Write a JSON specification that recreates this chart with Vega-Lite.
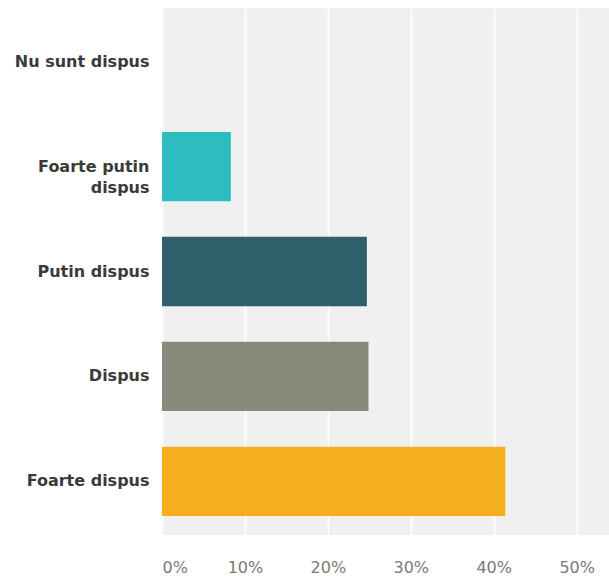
{
  "$schema": "https://vega.github.io/schema/vega-lite/v6.json",
  "autosize": "none",
  "width": 447,
  "height": 527,
  "padding": {"left": 162, "top": 8, "right": 0, "bottom": 41},
  "background": "white",
  "data": {
    "values": [
      {"answer": "Nu sunt dispus", "pct": 0},
      {"answer": "Foarte putin dispus", "pct": 8.3},
      {"answer": "Putin dispus", "pct": 24.7},
      {"answer": "Dispus", "pct": 24.9},
      {"answer": "Foarte dispus", "pct": 41.4}
    ]
  },
  "mark": {"type": "bar"},
  "encoding": {
    "y": {
      "field": "answer",
      "type": "nominal",
      "sort": null,
      "scale": {"paddingInner": 0.34, "paddingOuter": 0.18},
      "axis": {
        "title": null,
        "ticks": false,
        "domain": false,
        "grid": false,
        "labelPadding": 13,
        "labelFont": "DejaVu Sans",
        "labelFontWeight": "bold",
        "labelFontSize": 16,
        "labelColor": "#3a3a3a",
        "labelLineHeight": 21,
        "labelLimit": 200,
        "labelExpr": "datum.value == 'Foarte putin dispus' ? ['Foarte putin', 'dispus'] : datum.value",
        "encode": {
          "labels": {
            "update": {
              "dy": {"signal": "datum.value == 'Foarte putin dispus' ? -9 : 1"}
            }
          }
        }
      }
    },
    "x": {
      "field": "pct",
      "type": "quantitative",
      "scale": {"domain": [0, 53.9], "nice": false, "zero": true},
      "axis": {
        "title": null,
        "values": [0, 10, 20, 30, 40, 50],
        "labelExpr": "datum.value + '%'",
        "ticks": false,
        "domain": false,
        "grid": true,
        "gridColor": "#ffffff",
        "gridWidth": 2,
        "gridOpacity": 0.85,
        "labelPadding": 24,
        "labelFont": "DejaVu Sans",
        "labelFontSize": 16,
        "labelColor": "#7a7a7a",
        "labelFlush": true
      }
    },
    "color": {
      "field": "answer",
      "type": "nominal",
      "legend": null,
      "scale": {
        "domain": ["Nu sunt dispus", "Foarte putin dispus", "Putin dispus", "Dispus", "Foarte dispus"],
        "range": ["#4a90d9", "#2dbdc0", "#2e5f6b", "#898a7c", "#f5ae1c"]
      }
    }
  },
  "config": {
    "view": {"fill": "#f0f0f0", "stroke": null}
  }
}
